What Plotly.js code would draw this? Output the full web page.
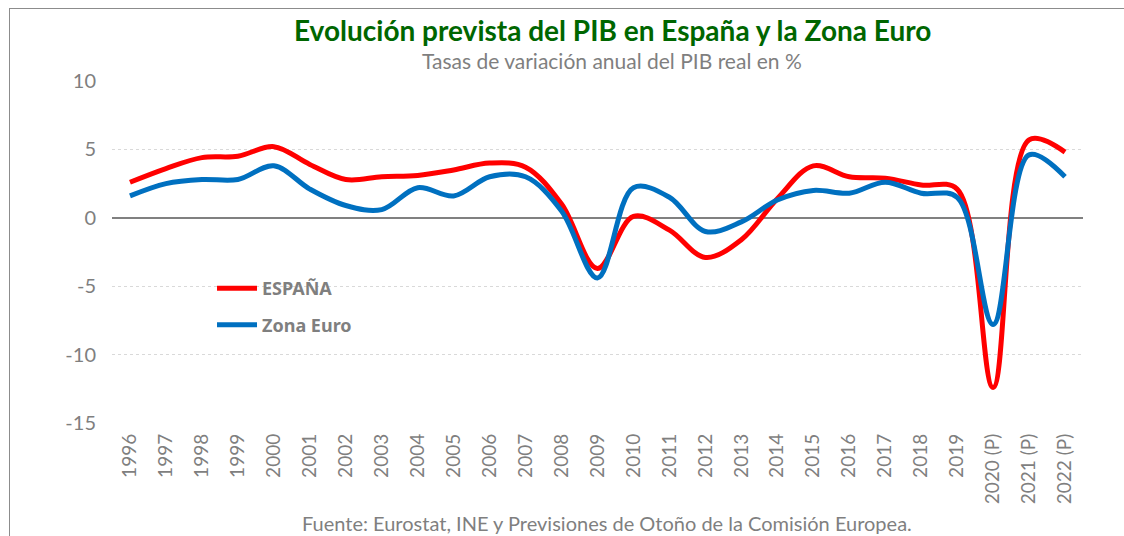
<!DOCTYPE html>
<html><head><meta charset="utf-8">
<script src="https://cdn.plot.ly/plotly-3.0.1.min.js"></script>
<style>
html,body{margin:0;padding:0;background:#fff;}
#wrap{position:relative;width:1124px;height:536px;overflow:hidden;}
#frame{position:absolute;left:9px;top:8px;width:1200px;height:600px;border-left:1.5px solid #8c8c8c;border-top:1.5px solid #8c8c8c;pointer-events:none;z-index:5;}
#chart{position:absolute;left:0;top:0;width:1124px;height:536px;}
</style></head>
<body><div id="wrap"><div id="chart"></div><div id="frame"></div></div>
<script>
const years = ["1996","1997","1998","1999","2000","2001","2002","2003","2004","2005","2006","2007","2008","2009","2010","2011","2012","2013","2014","2015","2016","2017","2018","2019","2020 (P)","2021 (P)","2022 (P)"];
const espana = [2.6,3.6,4.4,4.5,5.2,3.9,2.8,3.0,3.1,3.5,4.0,3.7,1.0,-3.7,0.1,-0.9,-2.9,-1.6,1.4,3.8,3.0,2.9,2.4,2.1,-12.4,5.7,4.8];
const zonaEuro = [1.6,2.5,2.8,2.8,3.8,2.1,0.9,0.6,2.2,1.6,3.0,3.0,0.5,-4.4,2.2,1.5,-1.0,-0.3,1.3,2.0,1.8,2.6,1.8,1.5,-7.8,4.6,3.0];
const seriesNames = ["ESPAÑA","Zona Euro"];
const yTickVals = [-15,-10,-5,0,5,10];
const yTickText = ["-15","-10","-5","0","5","10"];
const titleText = "Evolución prevista del PIB en España y la Zona Euro";
const subtitleText = "Tasas de variación anual del PIB real en %";
const sourceText = "Fuente: Eurostat, INE y Previsiones de Otoño de la Comisión Europea.";

const traces = [
  {x: years, y: espana, name: seriesNames[0], legendgroup: "a", type: "scatter", mode: "lines",
   line: {color: "#FF0000", width: 5, shape: "spline", smoothing: 1}},
  {x: years, y: zonaEuro, name: seriesNames[1], legendgroup: "b", type: "scatter", mode: "lines",
   line: {color: "#0070C0", width: 5, shape: "spline", smoothing: 1}}
];
const layout = {
  width: 1124, height: 536,
  margin: {l: 112, r: 41, t: 81, b: 112.5},
  paper_bgcolor: "#fff", plot_bgcolor: "#fff",
  showlegend: true,
  legend: {x: 0.103, y: 0.447, xanchor: "left", yanchor: "top", bgcolor: "rgba(0,0,0,0)",
    font: {family: "Noto Sans, sans-serif", size: 18, color: "#7f7f7f", weight: "bold"},
    traceorder: "grouped", tracegroupgap: 10, itemwidth: 40},
  xaxis: {type: "category", range: [-0.5, 26.5], showgrid: false, zeroline: false, showline: false,
    ticks: "", tickangle: -90, ticklabelstandoff: 6,
    tickfont: {family: "Lato, sans-serif", size: 19, color: "#7f7f7f"}},
  yaxis: {range: [-15, 10], tickmode: "array", tickvals: yTickVals, ticktext: yTickText,
    showgrid: true, gridcolor: "#d9d9d9", griddash: "dot", gridwidth: 1,
    zeroline: true, zerolinecolor: "#808080", zerolinewidth: 1.5, showline: false, ticks: "",
    ticklabelstandoff: 15,
    tickfont: {family: "Lato, sans-serif", size: 20, color: "#7f7f7f"}},
  annotations: [
    {text: titleText, xref: "paper", yref: "paper", x: 0.515, y: 1, yshift: 51, xanchor: "center", yanchor: "middle", showarrow: false,
     font: {family: "Lato, sans-serif", size: 28, color: "#006600", weight: "bold"}},
    {text: subtitleText, xref: "paper", yref: "paper", x: 0.515, y: 1, yshift: 21, xanchor: "center", yanchor: "middle", showarrow: false,
     font: {family: "Lato, sans-serif", size: 21, color: "#7f7f7f"}},
    {text: sourceText, xref: "paper", yref: "paper", x: 0.51, y: 0, yshift: -100, xanchor: "center", yanchor: "middle", showarrow: false,
     font: {family: "Lato, sans-serif", size: 20, color: "#7f7f7f"}}
  ]
};
Plotly.newPlot("chart", traces, layout, {displayModeBar: false, staticPlot: true});
</script></body></html>
